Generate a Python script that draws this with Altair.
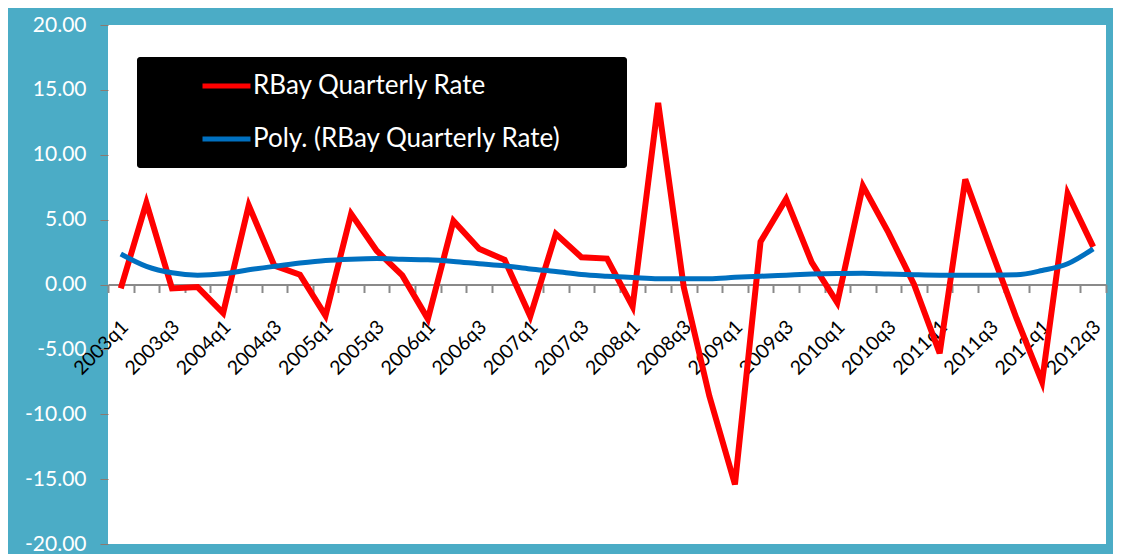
import altair as alt
import pandas as pd

quarters = [
    "2003q1", "2003q2", "2003q3", "2003q4",
    "2004q1", "2004q2", "2004q3", "2004q4",
    "2005q1", "2005q2", "2005q3", "2005q4",
    "2006q1", "2006q2", "2006q3", "2006q4",
    "2007q1", "2007q2", "2007q3", "2007q4",
    "2008q1", "2008q2", "2008q3", "2008q4",
    "2009q1", "2009q2", "2009q3", "2009q4",
    "2010q1", "2010q2", "2010q3", "2010q4",
    "2011q1", "2011q2", "2011q3", "2011q4",
    "2012q1", "2012q2", "2012q3",
]

rate = [
    -0.3, 6.3, -0.3, -0.2,
    -2.2, 6.1, 1.45, 0.75,
    -2.4, 5.45, 2.6, 0.7,
    -2.65, 4.9, 2.75, 1.9,
    -2.45, 3.9, 2.1, 2.0,
    -1.7, 14.0, -0.2, -8.6,
    -15.4, 3.3, 6.6, 1.7,
    -1.4, 7.6, 4.0, 0.0,
    -5.3, 8.1, 2.7, -2.6,
    -7.5, 7.0, 2.9,
]

poly = [
    2.35, 1.4, 0.9, 0.72,
    0.82, 1.13, 1.4, 1.65,
    1.85, 1.95, 2.0, 1.95,
    1.9, 1.77, 1.6, 1.44,
    1.2, 1.0, 0.77, 0.64,
    0.54, 0.44, 0.44, 0.44,
    0.55, 0.64, 0.72, 0.8,
    0.85, 0.87, 0.8, 0.75,
    0.72, 0.72, 0.72, 0.75,
    1.08, 1.6, 2.75,
]

series_names = ["RBay Quarterly Rate", "Poly. (RBay Quarterly Rate)"]
series_colors = ["#FF0000", "#0070C0"]
y_ticks = [-20, -15, -10, -5, 0, 5, 10, 15, 20]

df_rate = pd.DataFrame({"quarter": quarters, "value": rate, "series": series_names[0]})
df_poly = pd.DataFrame({"quarter": quarters, "value": poly, "series": series_names[1]})

PLOT_W = 998
PLOT_H = 519

x_enc = alt.X(
    "quarter:N",
    sort=quarters,
    bandPosition=0.5,
    scale=alt.Scale(type="band", domain=quarters, paddingInner=0, paddingOuter=0),
    axis=alt.Axis(
        orient="bottom",
        offset=-PLOT_H / 2,
        title=None,
        grid=False,
        tickBand="extent",
        domainColor="#8a8a8a",
        domainWidth=2,
        tickColor="#8a8a8a",
        tickWidth=2,
        tickSize=8,
        labelAngle=-45,
        labelAlign="right",
        labelBaseline="middle",
        labelPadding=31,
        labelOffset=4,
        labelFont="Lato",
        labelFontSize=19.5,
        labelColor="black",
        labelOverlap=False,
        labelExpr="(slice(datum.label, -1) == '1' || slice(datum.label, -1) == '3') ? datum.label : ''",
    ),
)

y_enc = alt.Y(
    "value:Q",
    scale=alt.Scale(domain=[-20, 20], nice=False, zero=False),
    axis=alt.Axis(
        values=y_ticks,
        title=None,
        grid=False,
        domain=False,
        tickColor="#8a7a70",
        tickWidth=1,
        tickSize=8,
        labelColor="white",
        labelFont="Lato",
        labelFontSize=21,
        labelPadding=14,
        labelExpr="replace(format(datum.value, '.2f'), '\u2212', '-')",
    ),
)

legend = alt.Legend(
    orient="none",
    legendX=29,
    legendY=32,
    title="\u00a0",
    titleOrient="right",
    titleColor="black",
    titleFontSize=20,
    titlePadding=63,
    fillColor="black",
    padding=3,
    cornerRadius=3,
    symbolType="stroke",
    symbolSize=2304,
    symbolStrokeWidth=5,
    symbolOffset=60,
    labelFont="Lato",
    labelFontSize=26,
    labelColor="white",
    labelOffset=0,
    labelLimit=800,
    clipHeight=52,
    rowPadding=1,
)

color_enc = alt.Color(
    "series:N",
    scale=alt.Scale(domain=series_names, range=series_colors),
    legend=legend,
)

red = alt.Chart(df_rate).mark_line(strokeWidth=6).encode(x=x_enc, y=y_enc, color=color_enc)
blue = alt.Chart(df_poly).mark_line(strokeWidth=5, interpolate="monotone").encode(
    x=x_enc, y=y_enc, color=color_enc
)

chart = (
    alt.layer(red, blue)
    .properties(
        width=PLOT_W,
        height=PLOT_H,
        autosize=alt.AutoSizeParams(type="none"),
        padding={"left": 100, "top": 17, "right": 7, "bottom": 10},
        background="#4BACC6",
    )
    .configure_view(fill="white", strokeWidth=0)
)

chart.save("out.html", embed_options={"renderer": "svg", "actions": False})
